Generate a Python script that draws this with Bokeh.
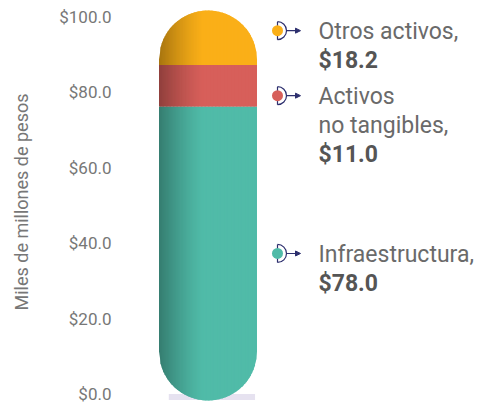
import numpy as np
from bokeh.plotting import figure
from bokeh.models import (Range1d, LinearAxis, FixedTicker, ColumnDataSource,
                          Arrow, NormalHead)
from bokeh.core.properties import value
from bokeh.embed import file_html
from bokeh.resources import INLINE

# ---------------- data ----------------
categories = ["Infraestructura", "Activos\nno tangibles", "Otros activos"]
values = [78.0, 11.0, 18.2]
colors = ["#50BBA8", "#D75F5A", "#FAAF18"]
tick_values = [0, 20, 40, 60, 80, 100]
tick_labels = ["$0.0", "$20.0", "$40.0", "$60.0", "$80.0", "$100.0"]
axis_title = "Miles de millones de pesos"

# ---------------- layout ----------------
W, H = 482, 403
BORDER_LEFT = 150
BAR_PX = 98.0                     # bar width in px (1 x-unit)
BAR_CENTER_PX = 207.5
X0 = -(BAR_CENTER_PX - BORDER_LEFT) / BAR_PX
X1 = X0 + (W - BORDER_LEFT) / BAR_PX
PPU = 3.77                        # px per y-unit
Y0 = -(H - 400) / PPU
Y1 = Y0 + H / PPU
LABEL_SHIFT = 6.5 / PPU           # tick labels sit slightly above their tick

p = figure(width=W, height=H, x_range=Range1d(X0, X1), y_range=Range1d(Y0, Y1),
           output_backend="svg", toolbar_location=None,
           x_axis_location=None, y_axis_location=None,
           min_border_left=BORDER_LEFT, min_border_right=0,
           min_border_top=0, min_border_bottom=0,
           outline_line_color=None, background_fill_color="white")
p.grid.grid_line_color = None

p.extra_y_ranges = {"lab": Range1d(Y0 - LABEL_SHIFT, Y1 - LABEL_SHIFT)}
ax = LinearAxis(y_range_name="lab", ticker=FixedTicker(ticks=tick_values),
                major_label_overrides={t: l for t, l in zip(tick_values, tick_labels)},
                axis_line_color=None, major_tick_line_color=None,
                minor_tick_line_color=None, major_tick_out=0, major_tick_in=0,
                major_label_standoff=39,
                major_label_text_font="Roboto", major_label_text_font_size="17px",
                major_label_text_color="#777777",
                axis_label=axis_title, axis_label_standoff=24,
                axis_label_text_font="Roboto", axis_label_text_font_size="18px",
                axis_label_text_font_style="normal", axis_label_text_color="#777777")
p.add_layout(ax, "left")

# ---------------- capsule bar built from shaded strips ----------------
vals = np.array(values)
bottoms = np.concatenate([[0.0], np.cumsum(vals)[:-1]])
tops = np.cumsum(vals)
cap_top = Y1 - 10 / PPU
tops_vis = np.minimum(tops, cap_top)

N = 70
R = BAR_PX / 2


def cap(x):
    return (R - np.sqrt(np.maximum(R**2 - (x * BAR_PX) ** 2, 0))) / PPU


def mix(hexcol, d):
    r, g, b = (int(hexcol[i:i + 2], 16) for i in (1, 3, 5))
    return "#%02x%02x%02x" % (int(r * (1 - d)), int(g * (1 - d)), int(b * (1 - d)))


# soft shadow under the capsule
p.quad(left=[-0.40], right=[0.48], bottom=[0.15], top=[1.7],
       fill_color="#e6e2f0", line_color=None)

pxs, pys, pcs = [], [], []
nseg = len(values)
for i in range(nseg):
    for k in range(N):
        xl = -0.5 + k / N
        xr = min(xl + 1.6 / N, 0.5)
        xm = xl + 0.5 / N
        tpos = xm + 0.5
        d = 0.33 * max(0.0, 1 - tpos / 0.45) ** 1.3
        xx = [xl, xr, xr, xl]
        b_l = bottoms[i] + (cap(xl) if i == 0 else 0.0)
        b_r = bottoms[i] + (cap(xr) if i == 0 else 0.0)
        t_r = tops_vis[i] - (cap(xr) if i == nseg - 1 else 0.0)
        t_l = tops_vis[i] - (cap(xl) if i == nseg - 1 else 0.0)
        pxs.append(xx)
        pys.append([b_l, b_r, t_r, t_l])
        pcs.append(mix(colors[i], d))

p.patches(xs="xs", ys="ys", source=ColumnDataSource(dict(xs=pxs, ys=pys, c=pcs)),
          fill_color="c", line_color=None)

# ---------------- labels with simple collision avoidance ----------------
mids = bottoms + vals / 2
LINE_PX = 29
nlines = [len(c.split("\n")) + 1 for c in categories]
order = np.argsort(-mids)
label_y = mids.copy()
prev = None
for idx in order:
    if prev is not None:
        gap = (nlines[prev] * LINE_PX + 7) / PPU
        label_y[idx] = min(mids[idx], label_y[prev] - gap)
    prev = idx

MX = (277 - BAR_CENTER_PX) / BAR_PX
TX = (318 - BAR_CENTER_PX) / BAR_PX
AX0 = MX + 9 / BAR_PX
AX1 = (300 - BAR_CENTER_PX) / BAR_PX
NAVY = "#2d2f6e"

mk = ColumnDataSource(dict(x=[MX] * nseg, y=list(label_y), color=colors))
p.scatter(x="x", y="y", source=mk, marker="dash", angle=np.pi / 2, size=18,
          line_color=NAVY, line_width=1.2)
p.arc(x="x", y="y", source=mk, radius=9, radius_units="screen",
      start_angle=-np.pi / 2, end_angle=np.pi / 2, line_color=NAVY, line_width=1.2)
p.scatter(x="x", y="y", source=mk, size=11, fill_color="color", line_color=None)
arrows = ColumnDataSource(dict(x0=[AX0] * nseg, x1=[AX1] * nseg, y=list(label_y)))
p.add_layout(Arrow(source=arrows, x_start="x0", y_start="y", x_end="x1", y_end="y",
                   line_color=NAVY, line_width=1.1,
                   end=NormalHead(size=5, fill_color=NAVY, line_color=NAVY)))

name_rows = dict(x=[], y=[], off=[], text=[])
val_rows = dict(x=[], y=[], off=[], text=[])
for i, c in enumerate(categories):
    lines = c.split("\n")
    lines[-1] = lines[-1] + ","
    for k, ln in enumerate(lines):
        name_rows["x"].append(TX)
        name_rows["y"].append(label_y[i])
        name_rows["off"].append(k * LINE_PX + 1)
        name_rows["text"].append(ln)
    val_rows["x"].append(TX)
    val_rows["y"].append(label_y[i])
    val_rows["off"].append(len(lines) * LINE_PX + 1)
    val_rows["text"].append("$%.1f" % values[i])

p.text(x="x", y="y", y_offset="off", text="text", source=ColumnDataSource(name_rows),
       text_font=value("Roboto"), text_font_size="23px", text_color="#6a6a6a",
       text_baseline="middle", text_align="left")
p.text(x="x", y="y", y_offset="off", text="text", source=ColumnDataSource(val_rows),
       text_font=value("Roboto"), text_font_size="23px", text_font_style="bold",
       text_color="#555555", text_baseline="middle", text_align="left")

open("out.html", "w").write(file_html(p, INLINE))
